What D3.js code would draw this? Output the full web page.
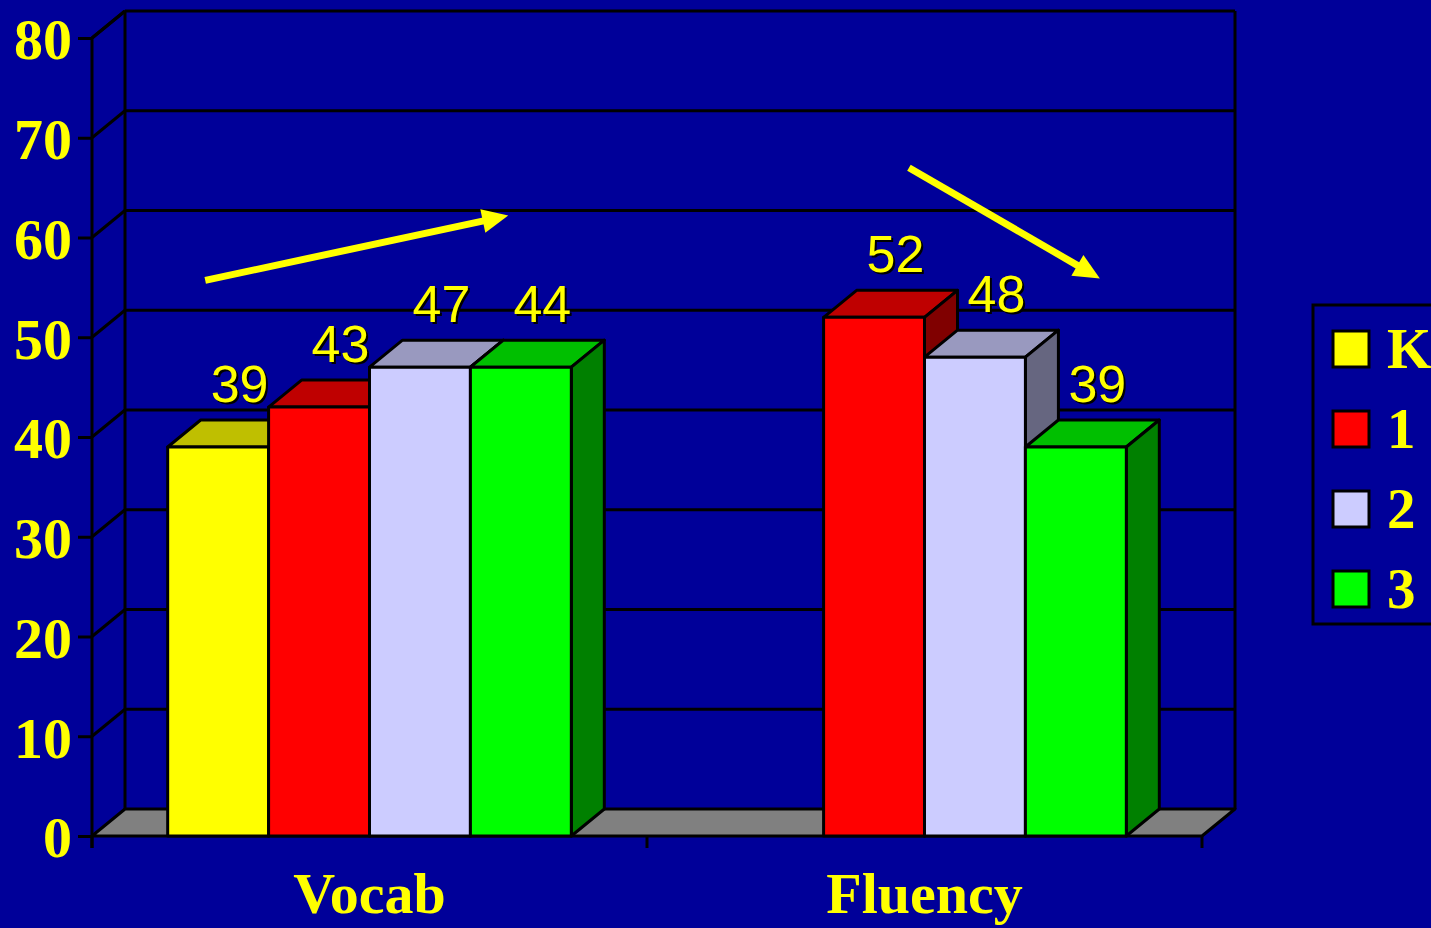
<!DOCTYPE html>
<html>
<head>
<meta charset="utf-8">
<script src="https://cdn.jsdelivr.net/npm/d3@7"></script>
<style>
  html, body { margin: 0; padding: 0; background: #000099; overflow: hidden; }
  svg { display: block; }
</style>
</head>
<body>
<svg id="chart"></svg>
<script>
// 3d bar chart, grade levels by measure

/*  DATA  */

const categories = ['Vocab', 'Fluency'];
const series = ['K', '1', '2', '3'];
// bar heights as drawn (K has no Fluency bar)
const vocabValues = [39, 43, 47, 47];
const fluencyValues = [null, 52, 48, 39];
// value labels as typed on the slide
const vocabLabels = ['39', '43', '47', '44'];
const fluencyLabels = ['', '52', '48', '39'];
const yTicks = [0, 10, 20, 30, 40, 50, 60, 70, 80];
const colors = ['#ffff00', '#ff0000', '#ccccff', '#00ff00'];

// trend arrows: [category, fraction of band, value] start -> end
const arrows = [
    { from: ['Vocab', 0.204, 55.7], to: ['Vocab', 0.75, 62.2] },
    { from: ['Fluency', 0.472, 67.0], to: ['Fluency', 0.816, 55.9] }
];

/*  GLOBALS  */

const width = 1431,
    height = 928;

// depth of the 3d box
const dx = 33,
    dy = -27;

const serif = '"Times New Roman", "Liberation Serif", serif',
    sans = 'Arial, "Liberation Sans", sans-serif';

const svg = d3.select('#chart')
    .attr('width', width)
    .attr('height', height);

svg.append('rect')
    .attr('width', width).attr('height', height)
    .attr('fill', '#000099');

// scales
let x0 = d3.scaleBand()
    .domain(categories)
    .range([92, 1202]);

let x1 = d3.scaleBand()
    .domain(series)
    .range([0, x0.bandwidth()])
    .paddingInner(0)
    .paddingOuter(0.75);

let y = d3.scaleLinear()
    .domain([0, 80])
    .range([836, 38]);

const left = x0.range()[0],
    right = x0.range()[1];

/* WALLS */

let walls = svg.append('g').attr('id', 'walls')
    .attr('stroke', '#000')
    .attr('stroke-width', 3)
    .attr('fill', 'none');

// back wall gridlines + side wall diagonals
walls.selectAll('line.grid')
    .data(yTicks.filter(d => d > 0))
    .enter().append('line')
    .attr('class', 'grid')
    .attr('x1', left + dx).attr('x2', right + dx)
    .attr('y1', d => y(d) + dy).attr('y2', d => y(d) + dy);

walls.selectAll('line.side')
    .data(yTicks.filter(d => d > 0))
    .enter().append('line')
    .attr('class', 'side')
    .attr('x1', left).attr('x2', left + dx)
    .attr('y1', d => y(d)).attr('y2', d => y(d) + dy);

// back wall verticals
[left + dx, right + dx].forEach(xx => {
    walls.append('line')
        .attr('x1', xx).attr('x2', xx)
        .attr('y1', y(80) + dy).attr('y2', y(0) + dy);
});

// floor
svg.append('path')
    .attr('d', d3.line()([
        [left, y(0)], [right, y(0)],
        [right + dx, y(0) + dy], [left + dx, y(0) + dy]
    ]) + 'Z')
    .attr('fill', '#808080')
    .attr('stroke', '#000')
    .attr('stroke-width', 3)
    .attr('stroke-linejoin', 'round');

/* BARS */

const valuesBy = { Vocab: vocabValues, Fluency: fluencyValues };
const labelsBy = { Vocab: vocabLabels, Fluency: fluencyLabels };

let bars = [];
categories.forEach(c => {
    series.forEach((s, i) => {
        bars.push({ cat: c, ser: s, i: i, value: valuesBy[c][i], label: labelsBy[c][i] });
    });
});

let barLayer = svg.append('g').attr('id', 'bars');

bars.filter(d => d.value != null).forEach(d => {
    let bx = x0(d.cat) + x1(d.ser),
        bw = x1.bandwidth(),
        top = y(d.value),
        bot = y(0),
        base = d3.color(colors[d.i]);

    let g = barLayer.append('g')
        .attr('stroke', '#000')
        .attr('stroke-width', 3)
        .attr('stroke-linejoin', 'round');

    // top face
    g.append('path')
        .attr('d', d3.line()([[bx, top], [bx + bw, top], [bx + bw + dx, top + dy], [bx + dx, top + dy]]) + 'Z')
        .attr('fill', d3.rgb(base.r * 0.75, base.g * 0.75, base.b * 0.75));
    // side face
    g.append('path')
        .attr('d', d3.line()([[bx + bw, top], [bx + bw + dx, top + dy], [bx + bw + dx, bot + dy], [bx + bw, bot]]) + 'Z')
        .attr('fill', d3.rgb(base.r * 0.5, base.g * 0.5, base.b * 0.5));
    // front face
    g.append('rect')
        .attr('x', bx).attr('y', top)
        .attr('width', bw).attr('height', bot - top)
        .attr('fill', colors[d.i]);
});

// value labels with drop shadow
let labelLayer = svg.append('g').attr('id', 'labels')
    .attr('font-family', sans)
    .attr('font-size', 52)
    .attr('text-anchor', 'middle');

bars.filter(d => d.value != null).forEach(d => {
    let lx = x0(d.cat) + x1(d.ser) + x1.bandwidth() / 2 + dx / 2 + 5,
        ly = y(d.value) + dy - 18;
    labelLayer.append('text')
        .attr('x', lx + 2).attr('y', ly + 2)
        .attr('fill', '#000')
        .text(d.label);
    labelLayer.append('text')
        .attr('x', lx).attr('y', ly)
        .attr('fill', '#ffff00')
        .text(d.label);
});

/* AXES */

let yAxis = d3.axisLeft(y)
    .tickValues(yTicks)
    .tickSize(14)
    .tickSizeOuter(0)
    .tickPadding(6);

let yAxisG = svg.append('g')
    .attr('transform', 'translate(' + left + ',0)')
    .call(yAxis);

yAxisG.select('.domain').remove();
yAxisG.selectAll('line').attr('stroke', '#000').attr('stroke-width', 3);
yAxisG.selectAll('text')
    .attr('fill', '#ffff00')
    .attr('font-family', serif)
    .attr('font-weight', 'bold')
    .attr('font-size', 58)
    .attr('dy', '0.36em');

// front vertical axis line, running a bit below the floor
svg.append('line')
    .attr('x1', left).attr('x2', left)
    .attr('y1', y(80)).attr('y2', y(0) + 12)
    .attr('stroke', '#000').attr('stroke-width', 3);

// top-left diagonal
svg.append('line')
    .attr('x1', left).attr('x2', left + dx)
    .attr('y1', y(80)).attr('y2', y(80) + dy)
    .attr('stroke', '#000').attr('stroke-width', 3);

// category axis: ticks at band edges
let xTickPos = categories.map(c => x0(c)).concat([right]);
svg.selectAll('line.xtick')
    .data(xTickPos)
    .enter().append('line')
    .attr('class', 'xtick')
    .attr('x1', d => d).attr('x2', d => d)
    .attr('y1', y(0)).attr('y2', y(0) + 12)
    .attr('stroke', '#000').attr('stroke-width', 3);

svg.selectAll('text.cat')
    .data(categories)
    .enter().append('text')
    .attr('class', 'cat')
    .attr('x', d => x0(d) + x0.bandwidth() / 2)
    .attr('y', 913)
    .attr('text-anchor', 'middle')
    .attr('fill', '#ffff00')
    .attr('font-family', serif)
    .attr('font-weight', 'bold')
    .attr('font-size', 58)
    .text(d => d);

/* ARROWS */

function pt(p) {
    return [x0(p[0]) + p[1] * x0.bandwidth(), y(p[2])];
}

let arrowLayer = svg.append('g').attr('id', 'arrows');
arrows.forEach(a => {
    let p0 = pt(a.from), p1 = pt(a.to);
    let ang = Math.atan2(p1[1] - p0[1], p1[0] - p0[0]);
    let headLen = 26, headW = 12;
    let bx = p1[0] - headLen * Math.cos(ang),
        by = p1[1] - headLen * Math.sin(ang);
    arrowLayer.append('line')
        .attr('x1', p0[0]).attr('y1', p0[1])
        .attr('x2', bx + 2 * Math.cos(ang)).attr('y2', by + 2 * Math.sin(ang))
        .attr('stroke', '#ffff00')
        .attr('stroke-width', 7);
    let nx = -Math.sin(ang), ny = Math.cos(ang);
    arrowLayer.append('path')
        .attr('d', d3.line()([
            p1,
            [bx + nx * headW, by + ny * headW],
            [bx - nx * headW, by - ny * headW]
        ]) + 'Z')
        .attr('fill', '#ffff00');
});

/* LEGEND */

let legend = svg.append('g').attr('id', 'legend');
legend.append('rect')
    .attr('x', 1313).attr('y', 305)
    .attr('width', 200).attr('height', 319)
    .attr('fill', 'none')
    .attr('stroke', '#000').attr('stroke-width', 3);

let items = legend.selectAll('g.item')
    .data(series)
    .enter().append('g')
    .attr('class', 'item')
    .attr('transform', (d, i) => 'translate(1333,' + (331 + i * 80) + ')');

items.append('rect')
    .attr('width', 36).attr('height', 36)
    .attr('fill', (d, i) => colors[i])
    .attr('stroke', '#000').attr('stroke-width', 3);

items.append('text')
    .attr('x', 54).attr('y', 18)
    .attr('dy', '0.34em')
    .attr('fill', '#ffff00')
    .attr('font-family', serif)
    .attr('font-weight', 'bold')
    .attr('font-size', 57)
    .text(d => d);
</script>
</body>
</html>
